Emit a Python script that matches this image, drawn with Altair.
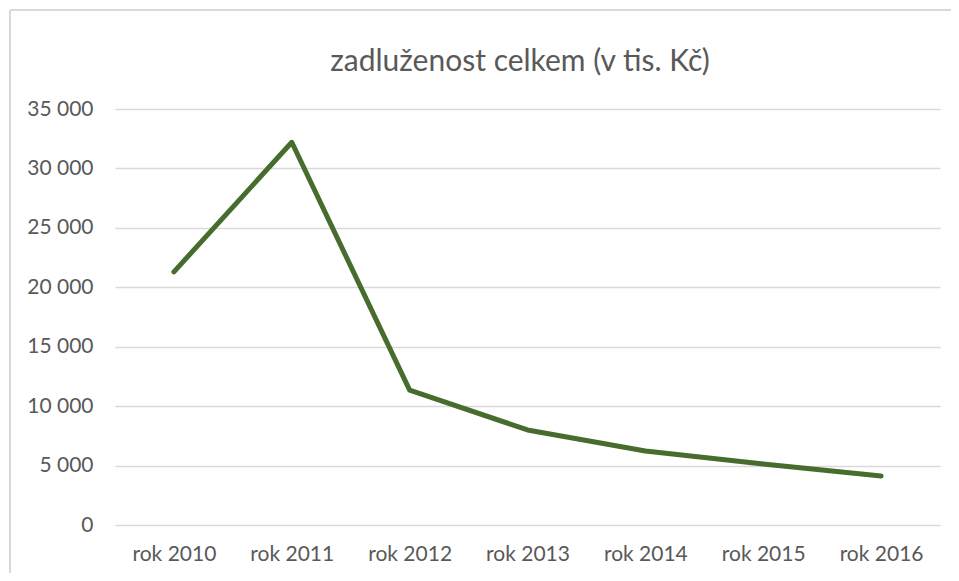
import altair as alt
import pandas as pd

years = ["rok 2010", "rok 2011", "rok 2012", "rok 2013", "rok 2014", "rok 2015", "rok 2016"]
values = [21300, 32200, 11350, 8000, 6230, 5130, 4120]
y_ticks = [0, 5000, 10000, 15000, 20000, 25000, 30000, 35000]
title_text = "zadluženost celkem (v tis. Kč)"

FONT = "Lato"
GREY = "#595959"
GRID = "#d9d9d9"

df = pd.DataFrame({"rok": years, "zadluzenost": values})

line = alt.Chart(df).mark_line(
    color="#476d2e", strokeWidth=5, strokeCap="round", strokeJoin="round"
).encode(
    x=alt.X(
        "rok:N", sort=years,
        scale=alt.Scale(type="point", padding=0.5),
        axis=alt.Axis(title=None, labelAngle=0, domain=False, ticks=False, grid=False,
                      labelPadding=18, labelFontSize=21, labelColor=GREY, labelFont=FONT),
    ),
    y=alt.Y(
        "zadluzenost:Q",
        scale=alt.Scale(domain=[0, 35000], nice=False),
        axis=alt.Axis(values=y_ticks, title=None, domain=False, ticks=False,
                      gridColor=GRID, gridWidth=1.5, labelPadding=22,
                      labelFontSize=21, labelColor=GREY, labelFont=FONT,
                      labelExpr="replace(format(datum.value, ',d'), ',', ' ')"),
    ),
)

box_df = pd.DataFrame({"a": [0]})
left_edge = alt.Chart(box_df).mark_rule(color=GRID, strokeWidth=2).encode(
    x=alt.value(-105), y=alt.value(-99), y2=alt.value(470)
)
top_edge = alt.Chart(box_df).mark_rule(color=GRID, strokeWidth=2).encode(
    x=alt.value(-105), x2=alt.value(840), y=alt.value(-99)
)
title_mark = alt.Chart(box_df).mark_text(
    text=title_text, fontSize=30, font=FONT, color=GREY,
    align="center", baseline="middle"
).encode(x=alt.value(405), y=alt.value(-47))

chart = alt.layer(left_edge, top_edge, title_mark, line).properties(
    width=825, height=416,
    padding={"left": 107, "top": 101, "right": 11, "bottom": 48},
    autosize=alt.AutoSizeParams(type="none"),
).configure(background="white").configure_view(stroke=None, strokeWidth=0)

chart.save("out.html", embed_options={"renderer": "svg", "actions": False})
